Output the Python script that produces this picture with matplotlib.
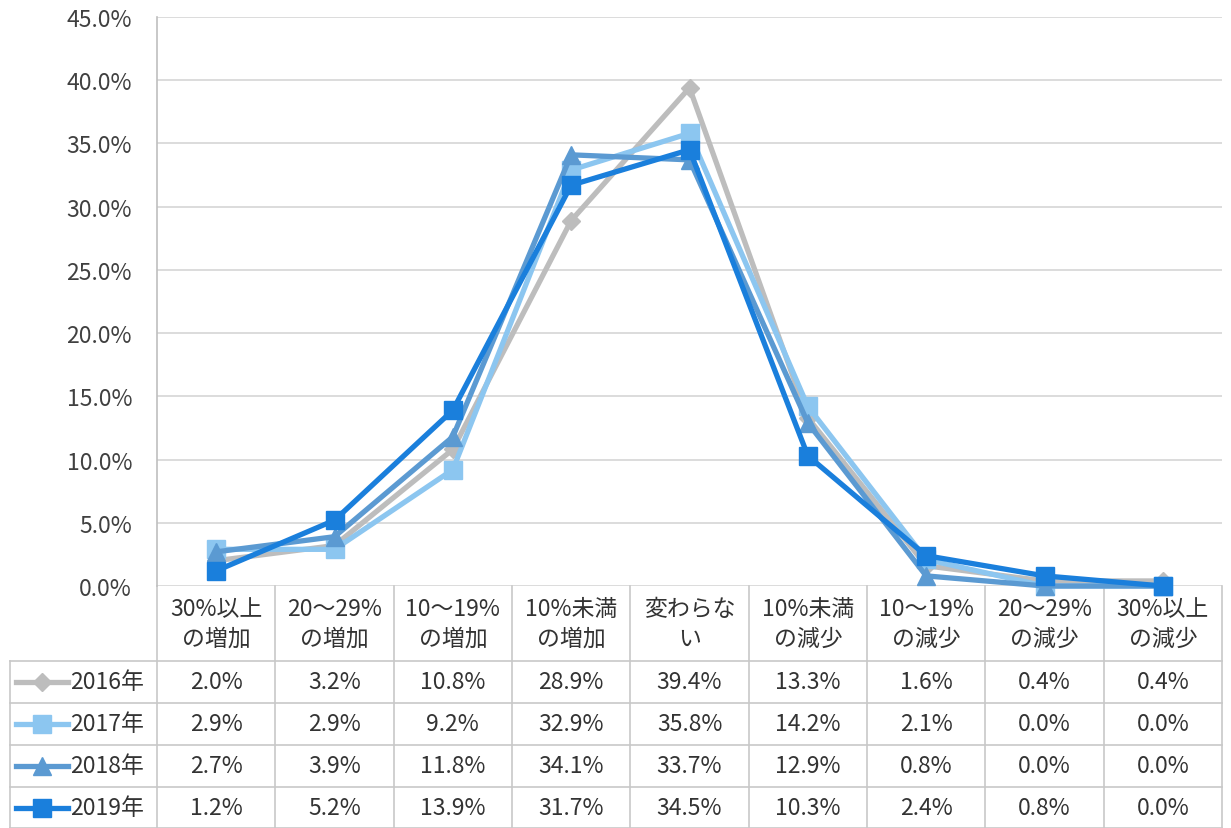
import matplotlib
matplotlib.use("Agg")
import matplotlib.pyplot as plt
import matplotlib.transforms as mtransforms
from matplotlib.lines import Line2D

plt.rcParams['font.family'] = ['Noto Sans CJK JP', 'DejaVu Sans']

categories = ["30%以上\nの増加", "20～29%\nの増加", "10～19%\nの増加", "10%未満\nの増加",
              "変わらな\nい", "10%未満\nの減少", "10～19%\nの減少", "20～29%\nの減少",
              "30%以上\nの減少"]
years = ["2016年", "2017年", "2018年", "2019年"]
v2016 = [2.0, 3.2, 10.8, 28.9, 39.4, 13.3, 1.6, 0.4, 0.4]
v2017 = [2.9, 2.9, 9.2, 32.9, 35.8, 14.2, 2.1, 0.0, 0.0]
v2018 = [2.7, 3.9, 11.8, 34.1, 33.7, 12.9, 0.8, 0.0, 0.0]
v2019 = [1.2, 5.2, 13.9, 31.7, 34.5, 10.3, 2.4, 0.8, 0.0]
y_ticks = [0, 5, 10, 15, 20, 25, 30, 35, 40, 45]

series = [v2016, v2017, v2018, v2019]
colors = ["#BDBDBD", "#8CC6F0", "#5B9AD2", "#1A7FDC"]
markers = ["D", "s", "^", "s"]
msizes = [9, 13, 13, 13]
FS = 16.5

W, H = 1231, 829
fig = plt.figure(figsize=(W / 100, H / 100), dpi=100)
fig.patch.set_facecolor("white")

left_px, right_px = 157, 1222
zero_px, top_px = 587, 18
ax = fig.add_axes([left_px / W, (H - zero_px) / H,
                   (right_px - left_px) / W, (zero_px - top_px) / H])

x = list(range(len(categories)))
for vals, c, m, ms in zip(series, colors, markers, msizes):
    ax.plot(x, vals, color=c, lw=3.8, marker=m, markersize=ms,
            markerfacecolor=c, markeredgecolor=c, solid_joinstyle="miter",
            zorder=3, clip_on=False)

ax.set_xlim(-0.5, len(categories) - 0.5)
ax.set_ylim(0, 45)
ax.set_yticks(y_ticks)
ax.set_yticklabels([f"{t:.1f}%" for t in y_ticks])
ax.set_xticks([])
ax.tick_params(axis="y", length=0, pad=18, labelsize=FS, labelcolor="#404040")
ax.grid(axis="y", color="#D6D6D6", lw=1.2)
ax.set_axisbelow(True)
for s in ["top", "right", "bottom"]:
    ax.spines[s].set_visible(False)
ax.spines["left"].set_color("#BFBFBF")
ax.spines["left"].set_linewidth(1.2)

# Data table below the plot: x in data coords, y in figure inches
blend = mtransforms.blended_transform_factory(ax.transData, fig.dpi_scale_trans)


def ypx(p):
    return (H - p) / 100.0


line_col = "#C8C8C8"
text_col = "#333333"
row_edges = [587, 662, 704, 746, 788, 829]
n = len(categories)

# vertical column lines
for i in range(n + 1):
    xe = i - 0.5
    ax.add_line(Line2D([xe, xe], [ypx(587), ypx(829)], transform=blend,
                       color=line_col, lw=1.2, clip_on=False))
# horizontal row lines (legend column extends left)
legend_left_px = 10
for r in row_edges[1:]:
    fig.add_artist(Line2D([legend_left_px / W, right_px / W], [(H - r) / H, (H - r) / H],
                          color=line_col, lw=1.2))
fig.add_artist(Line2D([legend_left_px / W, legend_left_px / W],
                      [(H - 662) / H, 0], color=line_col, lw=1.2))

# header row
for i, cat in enumerate(categories):
    ax.text(i, ypx((587 + 662) / 2), cat, transform=blend, ha="center", va="center",
            fontsize=FS, color=text_col, linespacing=1.35)

# value rows with legend keys
for r, (yr, vals, c, m, ms) in enumerate(zip(years, series, colors, markers, msizes)):
    yc = (row_edges[r + 1] + row_edges[r + 2]) / 2
    yf = (H - yc) / H
    fig.add_artist(Line2D([16 / W, 68 / W], [yf, yf], color=c, lw=3.8))
    fig.add_artist(Line2D([42 / W], [yf], color=c, marker=m, markersize=ms,
                          markerfacecolor=c, markeredgecolor=c))
    fig.text(70 / W, yf, yr, ha="left", va="center", fontsize=FS, color=text_col)
    for i, v in enumerate(vals):
        ax.text(i, ypx(yc), f"{v:.1f}%", transform=blend, ha="center", va="center",
                fontsize=FS, color=text_col)

fig.savefig("out.png", dpi=100, facecolor="white")
